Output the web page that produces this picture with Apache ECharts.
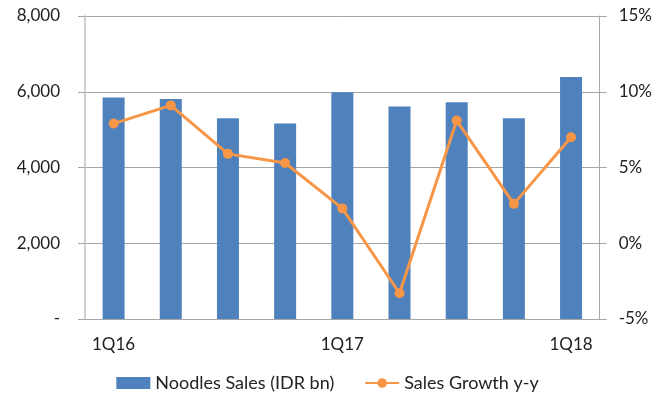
<!DOCTYPE html>
<html>
<head>
<meta charset="utf-8">
<script src="https://cdn.jsdelivr.net/npm/echarts@6/dist/echarts.min.js"></script>
<style>
  html, body { margin: 0; padding: 0; background: #fff; }
  #chart { width: 655px; height: 398px; }
</style>
</head>
<body>
<div id="chart"></div>
<script>
// 数据
let quarters = ['1Q16', '2Q16', '3Q16', '4Q16', '1Q17', '2Q17', '3Q17', '4Q17', '1Q18']
let noodlesSales = [5850, 5810, 5300, 5160, 5990, 5610, 5720, 5300, 6390]
let salesGrowth = [7.9, 9.1, 5.9, 5.3, 2.3, -3.3, 8.1, 2.6, 7.0]

let font = 'Lato, "Open Sans", sans-serif'
let chart = echarts.init(document.getElementById('chart'))
let option = {
    animation: false,
    textStyle: { fontFamily: font },
    grid: { left: 85, right: 55, top: 16, bottom: 79 },
    legend: {
        bottom: 1,
        left: 'center',
        itemGap: 30,
        itemWidth: 34,
        itemHeight: 12,
        textStyle: { fontSize: 18, color: '#222', fontFamily: font },
        data: [
            { name: 'Noodles Sales (IDR bn)', icon: 'rect' },
            { name: 'Sales Growth y-y' }
        ]
    },
    xAxis: {
        type: 'category',
        data: quarters,
        axisLine: { lineStyle: { color: '#a6a6a6', width: 1 } },
        axisTick: { interval: 0, length: 6, lineStyle: { color: '#a6a6a6' } },
        axisLabel: { interval: 3, fontSize: 17, color: '#222', margin: 17 }
    },
    yAxis: [{
        type: 'value',
        min: 0,
        max: 8000,
        interval: 2000,
        axisLine: { show: true, lineStyle: { color: '#d0d0d0', width: 2 } },
        axisTick: { show: true, length: 7, lineStyle: { color: '#a6a6a6' } },
        splitLine: { lineStyle: { color: '#a6a6a6' } },
        axisLabel: {
            fontSize: 17,
            color: '#222',
            margin: 25,
            formatter: v => v === 0 ? '-' : v.toLocaleString('en-US')
        }
    }, {
        type: 'value',
        min: -5,
        max: 15,
        interval: 5,
        axisLine: { show: true, lineStyle: { color: '#a6a6a6' } },
        axisTick: { show: true, length: 7, lineStyle: { color: '#a6a6a6' } },
        splitLine: { show: false },
        axisLabel: { fontSize: 17, color: '#222', margin: 19, formatter: '{value}%' }
    }],
    series: [{
        name: 'Noodles Sales (IDR bn)',
        type: 'bar',
        data: noodlesSales,
        barWidth: 22,
        itemStyle: { color: '#4f81bd' }
    }, {
        name: 'Sales Growth y-y',
        type: 'line',
        yAxisIndex: 1,
        data: salesGrowth,
        symbol: 'circle',
        symbolSize: 10,
        lineStyle: { color: '#f79646', width: 3 },
        itemStyle: { color: '#f79646' }
    }]
}
chart.setOption(option)
</script>
</body>
</html>
